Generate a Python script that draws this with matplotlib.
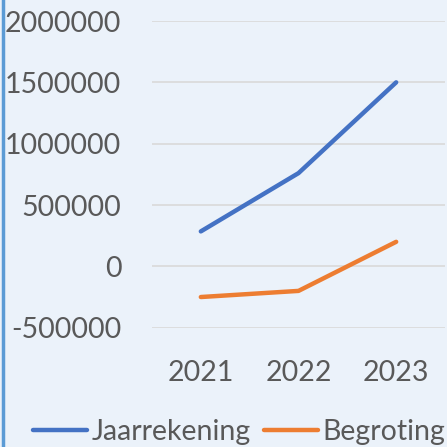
import matplotlib
matplotlib.use("Agg")
import matplotlib.pyplot as plt
from matplotlib.lines import Line2D

years = ["2021", "2022", "2023"]
jaarrekening = [285000, 760000, 1500000]
begroting = [-250000, -200000, 200000]
yticks = [-500000, 0, 500000, 1000000, 1500000, 2000000]

W = H = 447
fig = plt.figure(figsize=(W / 100, H / 100), dpi=100)
bg = "#EBF2FA"
fig.patch.set_facecolor(bg)
plt.rcParams['font.family'] = ['Lato', 'DejaVu Sans']

ax = fig.add_axes([152 / W, 1 - 327.7 / H, (445 - 152) / W, (327.7 - 21) / H])
ax.set_facecolor(bg)
x = list(range(len(years)))
ax.plot(x, jaarrekening, color="#4472C4", lw=3.2, solid_capstyle="round", label="Jaarrekening")
ax.plot(x, begroting, color="#ED7D31", lw=3.2, solid_capstyle="round", label="Begroting")
ax.set_xlim(-0.5, len(years) - 0.5)
ax.set_ylim(-500000, 2000000)
ax.set_yticks(yticks)
ax.set_yticklabels([str(v) for v in yticks])
ax.set_xticks(x)
ax.set_xticklabels(years)
ax.grid(axis="y", color="#D9D9D9", lw=1.2)
ax.set_axisbelow(True)
for s in ax.spines.values():
    s.set_visible(False)
ax.tick_params(length=0, labelsize=20.5, colors="#595959")
ax.tick_params(axis="y", pad=22)
ax.tick_params(axis="x", pad=23)

fig.add_artist(Line2D([3 / W, 3 / W], [0, 1], color="#5B9BD5", lw=2.5))

leg = fig.legend(loc="lower center", bbox_to_anchor=(0.535, -0.052), ncol=2, frameon=False,
                 fontsize=20.5, labelcolor="#595959", handlelength=1.9, handletextpad=0.15,
                 columnspacing=0.45)
fig.savefig("out.png", dpi=100, facecolor=bg)
